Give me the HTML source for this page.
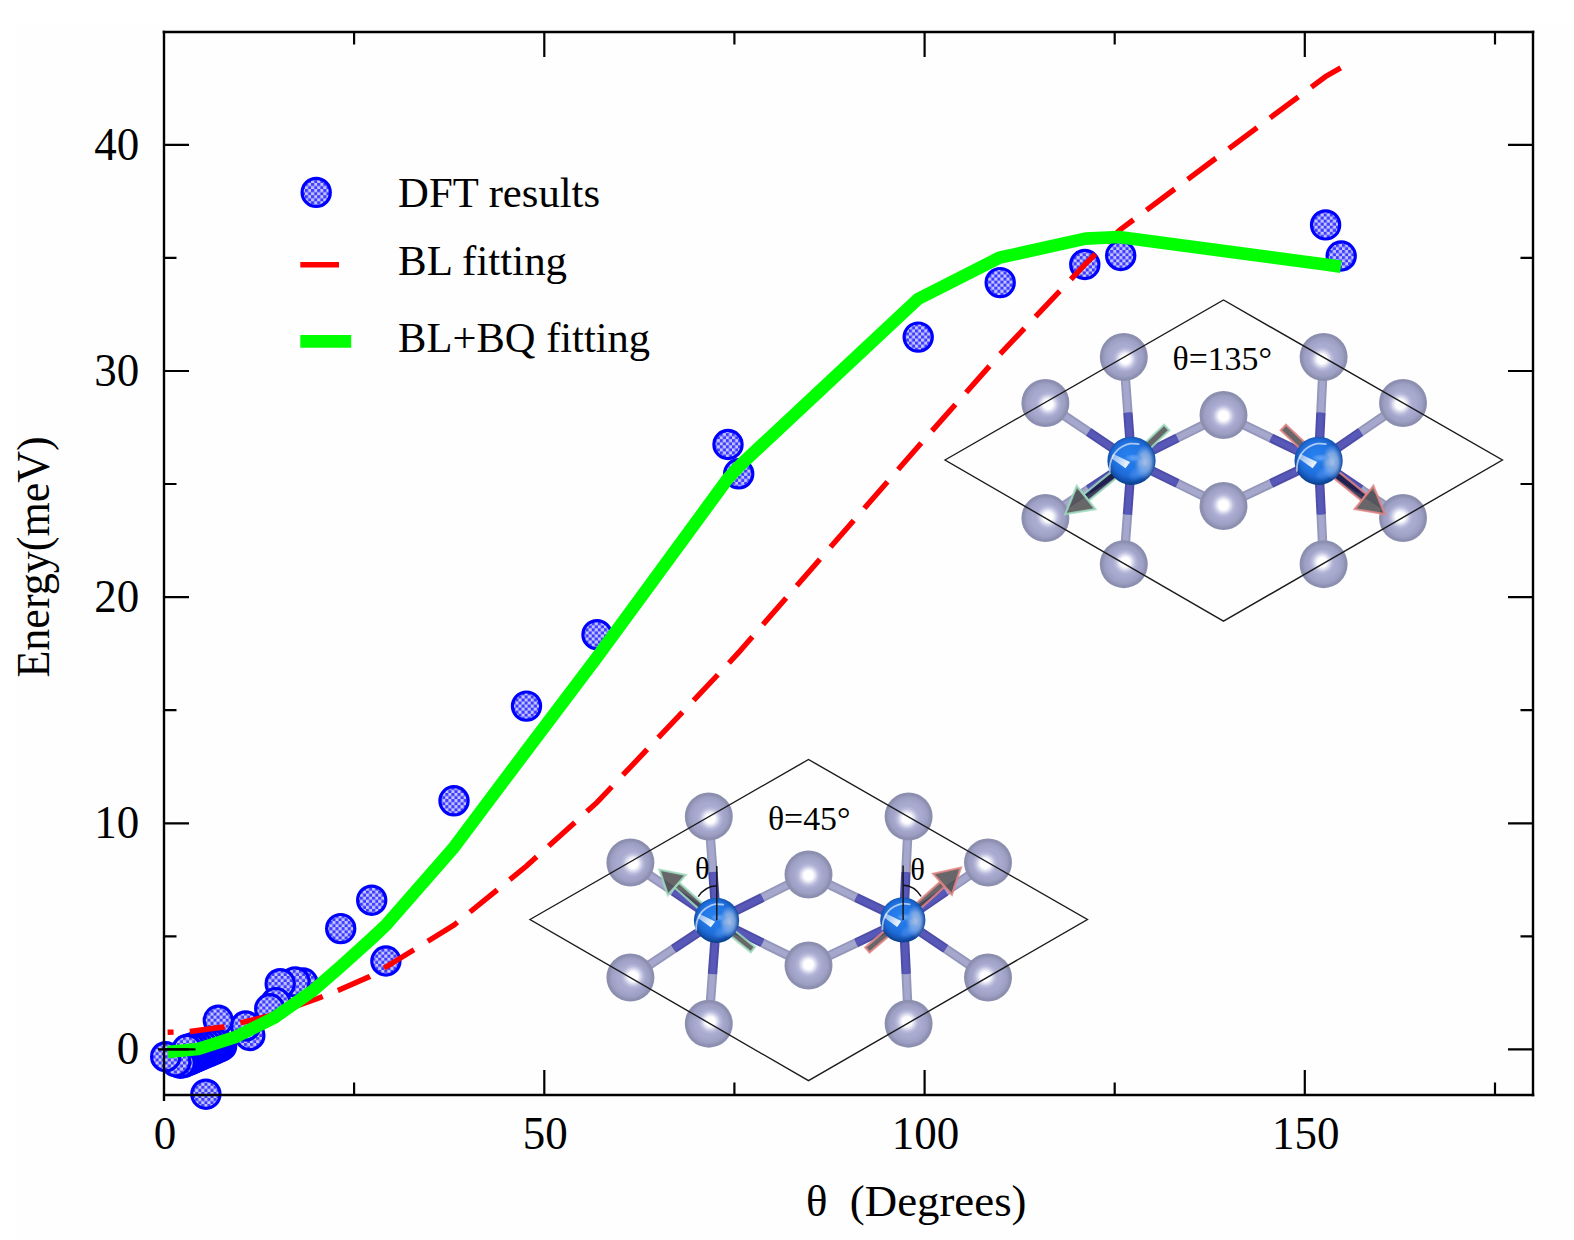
<!DOCTYPE html>
<html lang="en"><head><meta charset="utf-8"><title>Energy vs theta</title>
<style>html,body{margin:0;padding:0;background:#fff;}svg{display:block}text{font-family:"Liberation Serif","DejaVu Serif",serif;fill:#000}</style>
</head><body>
<svg width="1574" height="1240" viewBox="0 0 1574 1240">
<defs>
<pattern id="chk" width="6.1" height="6.1" patternUnits="userSpaceOnUse">
<rect width="6.1" height="6.1" fill="#c4c4ff"/>
<rect x="0" y="0" width="3.05" height="3.05" fill="#3c3cff"/>
<rect x="3.05" y="3.05" width="3.05" height="3.05" fill="#3c3cff"/>
</pattern>
<radialGradient id="gS" cx="0.5" cy="0.5" r="0.5">
<stop offset="0" stop-color="#a9abd1"/>
<stop offset="0.54" stop-color="#a8aad0"/>
<stop offset="0.80" stop-color="#9c9ec2"/>
<stop offset="0.94" stop-color="#8b8dae"/>
<stop offset="1" stop-color="#9092b2"/>
</radialGradient>
<radialGradient id="gH" cx="0.5" cy="0.5" r="0.5">
<stop offset="0" stop-color="#ffffff" stop-opacity="1"/>
<stop offset="0.35" stop-color="#ffffff" stop-opacity="1"/>
<stop offset="0.55" stop-color="#fafaff" stop-opacity="0.66"/>
<stop offset="0.78" stop-color="#f4f4ff" stop-opacity="0.2"/>
<stop offset="1" stop-color="#f0f0ff" stop-opacity="0"/>
</radialGradient>
<radialGradient id="gB" cx="0.5" cy="0.47" r="0.53" fx="0.40" fy="0.36">
<stop offset="0" stop-color="#2680ee"/>
<stop offset="0.5" stop-color="#2276e4"/>
<stop offset="0.72" stop-color="#1d6ad6"/>
<stop offset="0.88" stop-color="#1454b2"/>
<stop offset="1" stop-color="#093c88"/>
</radialGradient>
<radialGradient id="gL" cx="0.5" cy="0.5" r="0.5">
<stop offset="0" stop-color="#6aa8f8" stop-opacity="0.95"/>
<stop offset="0.6" stop-color="#5a9cf4" stop-opacity="0.6"/>
<stop offset="1" stop-color="#3a86ee" stop-opacity="0"/>
</radialGradient>
<linearGradient id="gW" x1="0" y1="0" x2="1" y2="0.5">
<stop offset="0" stop-color="#ffffff" stop-opacity="0.45"/>
<stop offset="1" stop-color="#ffffff" stop-opacity="0.92"/>
</linearGradient>
<radialGradient id="gP" cx="0.5" cy="0.5" r="0.5">
<stop offset="0" stop-color="#aac2e6" stop-opacity="0.95"/>
<stop offset="0.55" stop-color="#9dbbe6" stop-opacity="0.7"/>
<stop offset="1" stop-color="#7fa8e4" stop-opacity="0"/>
</radialGradient>
</defs>
<rect x="0" y="0" width="1574" height="1240" fill="#ffffff"/>
<rect x="16" y="25" width="1558" height="1215" fill="#fdfefd"/>
<g font-size="45">
<text transform="translate(165.0,1149.3) scale(1,1.04)" text-anchor="middle">0</text>
<text transform="translate(545.3,1149.3) scale(1,1.04)" text-anchor="middle">50</text>
<text transform="translate(925.6,1149.3) scale(1,1.04)" text-anchor="middle">100</text>
<text transform="translate(1305.8,1149.3) scale(1,1.04)" text-anchor="middle">150</text>
<text transform="translate(139.3,1064.4) scale(1,1.04)" text-anchor="end">0</text>
<text transform="translate(139.3,838.3) scale(1,1.04)" text-anchor="end">10</text>
<text transform="translate(139.3,612.1) scale(1,1.04)" text-anchor="end">20</text>
<text transform="translate(139.3,386.0) scale(1,1.04)" text-anchor="end">30</text>
<text transform="translate(139.3,159.8) scale(1,1.04)" text-anchor="end">40</text>
</g>
<text font-size="44.5" transform="translate(49,677.6) rotate(-90) scale(1,1.04)" textLength="241.4" lengthAdjust="spacingAndGlyphs">Energy(meV)</text>
<text font-size="44.5" x="806" y="1215.6" textLength="220.5" lengthAdjust="spacingAndGlyphs" style="white-space:pre">θ  (Degrees)</text>
<g fill="url(#chk)" stroke="#0000ff" stroke-width="3.2">
<circle cx="1341.2" cy="256" r="14.1"/>
<circle cx="1325.6" cy="224.9" r="14.1"/>
<circle cx="1120.7" cy="255.5" r="14.1"/>
<circle cx="1084.8" cy="264.5" r="14.1"/>
<circle cx="1000.2" cy="282.6" r="14.1"/>
<circle cx="918.2" cy="337.1" r="14.1"/>
<circle cx="738.7" cy="473.8" r="14.1"/>
<circle cx="728" cy="444.5" r="14.1"/>
<circle cx="597" cy="634.7" r="14.1"/>
<circle cx="526.5" cy="706.1" r="14.1"/>
<circle cx="454" cy="800.8" r="14.1"/>
<circle cx="385.9" cy="961" r="14.1"/>
<circle cx="371.7" cy="900.2" r="14.1"/>
<circle cx="340.7" cy="928.6" r="14.1"/>
<circle cx="303" cy="983" r="14.1"/>
<circle cx="295" cy="981.9" r="14.1"/>
<circle cx="280.2" cy="983.7" r="14.1"/>
<circle cx="275.8" cy="1002.6" r="14.1"/>
<circle cx="269.7" cy="1008.8" r="14.1"/>
<circle cx="249.8" cy="1035.5" r="14.1"/>
<circle cx="245.6" cy="1026" r="14.1"/>
<circle cx="221.6" cy="1046.0" r="14.1"/>
<circle cx="219.02666666666667" cy="1047.1066666666666" r="14.1"/>
<circle cx="218.3" cy="1020.3" r="14.1"/>
<circle cx="216.45333333333332" cy="1048.2133333333334" r="14.1"/>
<circle cx="213.88" cy="1049.32" r="14.1"/>
<circle cx="213.0" cy="1041.5" r="14.1"/>
<circle cx="211.30666666666667" cy="1050.4266666666667" r="14.1"/>
<circle cx="209.28571428571428" cy="1042.642857142857" r="14.1"/>
<circle cx="208.73333333333332" cy="1051.5333333333333" r="14.1"/>
<circle cx="206.16" cy="1052.6399999999999" r="14.1"/>
<circle cx="205.9" cy="1094.2" r="14.1"/>
<circle cx="205.57142857142858" cy="1043.7857142857142" r="14.1"/>
<circle cx="203.58666666666667" cy="1053.7466666666667" r="14.1"/>
<circle cx="201.85714285714286" cy="1044.9285714285713" r="14.1"/>
<circle cx="201.01333333333332" cy="1054.8533333333332" r="14.1"/>
<circle cx="198.44" cy="1055.96" r="14.1"/>
<circle cx="198.14285714285714" cy="1046.0714285714287" r="14.1"/>
<circle cx="195.86666666666667" cy="1057.0666666666666" r="14.1"/>
<circle cx="194.42857142857142" cy="1047.2142857142858" r="14.1"/>
<circle cx="193.29333333333332" cy="1058.1733333333332" r="14.1"/>
<circle cx="190.72" cy="1059.28" r="14.1"/>
<circle cx="190.71428571428572" cy="1048.357142857143" r="14.1"/>
<circle cx="188.14666666666668" cy="1060.3866666666665" r="14.1"/>
<circle cx="187.0" cy="1049.5" r="14.1"/>
<circle cx="185.57333333333332" cy="1061.4933333333333" r="14.1"/>
<circle cx="183.0" cy="1062.6" r="14.1"/>
<circle cx="180.3" cy="1063.2" r="14.1"/>
<circle cx="175.7" cy="1061.7" r="14.1"/>
<circle cx="165.7" cy="1056.7" r="14.1"/>
</g>
<path d="M167.6,1032.3 L189.2,1031.6 L223.5,1027 L270,1015.5 L317.6,998.5 L337.9,990.5 L369.7,976.5 L385.9,967 L454,925 L526.5,866 L597,802.4 L728,664 L738.7,652.4 L918.2,446.5 L1000.2,354 L1084.8,264.6 L1119.5,230.2 L1325.6,76.5 L1341.6,67.4" fill="none" stroke="#ff0000" stroke-width="5.4" stroke-dasharray="35.2 16.2" stroke-dashoffset="29.2"/>
<path d="M167.6,1051.9 L198.1,1048.9 L236.2,1036.7 L274.4,1017.6 L312.5,990.9 L340.7,966.5 L371.7,938.5 L385.9,925.2 L454,847.3 L526.5,750.6 L597,657.3 L728.1,478.3 L740.3,465.1 L918,299 L999.5,257.7 L1085.4,238.6 L1119,237 L1325.6,264.6 L1340.8,266.7" fill="none" stroke="#00ff00" stroke-width="12.6" stroke-linejoin="round"/>
<g stroke="#000" stroke-width="2.4" fill="none" stroke-linecap="butt">
<path d="M164,30.7V1101"/>
<path d="M1533,30.7V1096.3"/>
<path d="M162.7,32H1534.3"/>
<path d="M164,1095H1534.3"/>
</g>
<g stroke="#000" stroke-width="2.2" fill="none">
<path d="M544.3,1095v-25M544.3,32v25"/>
<path d="M924.6,1095v-25M924.6,32v25"/>
<path d="M1304.8,1095v-25M1304.8,32v25"/>
<path d="M354.1,1095v-12.5M354.1,32v12.5"/>
<path d="M734.4,1095v-12.5M734.4,32v12.5"/>
<path d="M1114.7,1095v-12.5M1114.7,32v12.5"/>
<path d="M1495.0,1095v-12.5M1495.0,32v12.5"/>
<path d="M164,1049.4h25M1533,1049.4h-25"/>
<path d="M164,823.3h25M1533,823.3h-25"/>
<path d="M164,597.1h25M1533,597.1h-25"/>
<path d="M164,371.0h25M1533,371.0h-25"/>
<path d="M164,144.8h25M1533,144.8h-25"/>
<path d="M164,936.3h12.5M1533,936.3h-12.5"/>
<path d="M164,710.2h12.5M1533,710.2h-12.5"/>
<path d="M164,484.0h12.5M1533,484.0h-12.5"/>
<path d="M164,257.9h12.5M1533,257.9h-12.5"/>
</g>
<path d="M158,1049.4H195.5" stroke="#000" stroke-width="2.2" fill="none"/>
<circle cx="316.2" cy="192.4" r="14.1" fill="url(#chk)" stroke="#0000ff" stroke-width="3.2"/>
<path d="M300.3,264.7H339" stroke="#ff0000" stroke-width="5.4" fill="none"/>
<path d="M300.3,341.4H351.2" stroke="#00ff00" stroke-width="12.6" fill="none"/>
<g font-size="42.6">
<text x="398.1" y="207" textLength="202" lengthAdjust="spacingAndGlyphs">DFT results</text>
<text x="398.1" y="275.1" textLength="169" lengthAdjust="spacingAndGlyphs">BL fitting</text>
<text x="398.1" y="352.1" textLength="252" lengthAdjust="spacingAndGlyphs">BL+BQ fitting</text>
</g>
<path d="M1123.8,357.0L1127.9,412.5" stroke="#9496ba" stroke-width="9.4" fill="none"/>
<path d="M1127.9,412.5L1131.5,460.8" stroke="#4d4da8" stroke-width="9.4" fill="none"/>
<path d="M1123.8,357.0L1127.9,412.5" stroke="#a5a7cd" stroke-width="5.6" fill="none"/>
<path d="M1127.9,412.5L1131.5,460.8" stroke="#5858b8" stroke-width="5.6" fill="none"/>
<path d="M1045.4,403L1088.5,431.9" stroke="#9496ba" stroke-width="9.4" fill="none"/>
<path d="M1088.5,431.9L1131.5,460.8" stroke="#4d4da8" stroke-width="9.4" fill="none"/>
<path d="M1045.4,403L1088.5,431.9" stroke="#a5a7cd" stroke-width="5.6" fill="none"/>
<path d="M1088.5,431.9L1131.5,460.8" stroke="#5858b8" stroke-width="5.6" fill="none"/>
<path d="M1223.5,415L1177.5,437.9" stroke="#9496ba" stroke-width="9.4" fill="none"/>
<path d="M1177.5,437.9L1131.5,460.8" stroke="#4d4da8" stroke-width="9.4" fill="none"/>
<path d="M1223.5,415L1177.5,437.9" stroke="#a5a7cd" stroke-width="5.6" fill="none"/>
<path d="M1177.5,437.9L1131.5,460.8" stroke="#5858b8" stroke-width="5.6" fill="none"/>
<path d="M1223.5,506L1177.5,483.4" stroke="#9496ba" stroke-width="9.4" fill="none"/>
<path d="M1177.5,483.4L1131.5,460.8" stroke="#4d4da8" stroke-width="9.4" fill="none"/>
<path d="M1223.5,506L1177.5,483.4" stroke="#a5a7cd" stroke-width="5.6" fill="none"/>
<path d="M1177.5,483.4L1131.5,460.8" stroke="#5858b8" stroke-width="5.6" fill="none"/>
<path d="M1045.4,518L1088.5,489.4" stroke="#9496ba" stroke-width="9.4" fill="none"/>
<path d="M1088.5,489.4L1131.5,460.8" stroke="#4d4da8" stroke-width="9.4" fill="none"/>
<path d="M1045.4,518L1088.5,489.4" stroke="#a5a7cd" stroke-width="5.6" fill="none"/>
<path d="M1088.5,489.4L1131.5,460.8" stroke="#5858b8" stroke-width="5.6" fill="none"/>
<path d="M1123.8,564.2L1127.5,514.6" stroke="#9496ba" stroke-width="9.4" fill="none"/>
<path d="M1127.5,514.6L1131.5,460.8" stroke="#4d4da8" stroke-width="9.4" fill="none"/>
<path d="M1123.8,564.2L1127.5,514.6" stroke="#a5a7cd" stroke-width="5.6" fill="none"/>
<path d="M1127.5,514.6L1131.5,460.8" stroke="#5858b8" stroke-width="5.6" fill="none"/>
<path d="M1323.6,357.0L1320.9,412.5" stroke="#9496ba" stroke-width="9.4" fill="none"/>
<path d="M1320.9,412.5L1318.6,460.8" stroke="#4d4da8" stroke-width="9.4" fill="none"/>
<path d="M1323.6,357.0L1320.9,412.5" stroke="#a5a7cd" stroke-width="5.6" fill="none"/>
<path d="M1320.9,412.5L1318.6,460.8" stroke="#5858b8" stroke-width="5.6" fill="none"/>
<path d="M1403,403L1360.8,431.9" stroke="#9496ba" stroke-width="9.4" fill="none"/>
<path d="M1360.8,431.9L1318.6,460.8" stroke="#4d4da8" stroke-width="9.4" fill="none"/>
<path d="M1403,403L1360.8,431.9" stroke="#a5a7cd" stroke-width="5.6" fill="none"/>
<path d="M1360.8,431.9L1318.6,460.8" stroke="#5858b8" stroke-width="5.6" fill="none"/>
<path d="M1223.5,415L1271.0,437.9" stroke="#9496ba" stroke-width="9.4" fill="none"/>
<path d="M1271.0,437.9L1318.6,460.8" stroke="#4d4da8" stroke-width="9.4" fill="none"/>
<path d="M1223.5,415L1271.0,437.9" stroke="#a5a7cd" stroke-width="5.6" fill="none"/>
<path d="M1271.0,437.9L1318.6,460.8" stroke="#5858b8" stroke-width="5.6" fill="none"/>
<path d="M1223.5,506L1271.0,483.4" stroke="#9496ba" stroke-width="9.4" fill="none"/>
<path d="M1271.0,483.4L1318.6,460.8" stroke="#4d4da8" stroke-width="9.4" fill="none"/>
<path d="M1223.5,506L1271.0,483.4" stroke="#a5a7cd" stroke-width="5.6" fill="none"/>
<path d="M1271.0,483.4L1318.6,460.8" stroke="#5858b8" stroke-width="5.6" fill="none"/>
<path d="M1403,518L1360.8,489.4" stroke="#9496ba" stroke-width="9.4" fill="none"/>
<path d="M1360.8,489.4L1318.6,460.8" stroke="#4d4da8" stroke-width="9.4" fill="none"/>
<path d="M1403,518L1360.8,489.4" stroke="#a5a7cd" stroke-width="5.6" fill="none"/>
<path d="M1360.8,489.4L1318.6,460.8" stroke="#5858b8" stroke-width="5.6" fill="none"/>
<path d="M1323.6,564.2L1321.2,514.6" stroke="#9496ba" stroke-width="9.4" fill="none"/>
<path d="M1321.2,514.6L1318.6,460.8" stroke="#4d4da8" stroke-width="9.4" fill="none"/>
<path d="M1323.6,564.2L1321.2,514.6" stroke="#a5a7cd" stroke-width="5.6" fill="none"/>
<path d="M1321.2,514.6L1318.6,460.8" stroke="#5858b8" stroke-width="5.6" fill="none"/>
<circle cx="1123.8" cy="357.0" r="24.0" fill="url(#gS)"/>
<circle cx="1125.3" cy="359.1" r="13.0" fill="url(#gH)"/>
<circle cx="1323.6" cy="357.0" r="24.0" fill="url(#gS)"/>
<circle cx="1322.1" cy="359.1" r="13.0" fill="url(#gH)"/>
<circle cx="1045.4" cy="403" r="24.0" fill="url(#gS)"/>
<circle cx="1048.1" cy="404.2" r="13.0" fill="url(#gH)"/>
<circle cx="1403" cy="403" r="24.0" fill="url(#gS)"/>
<circle cx="1400.3" cy="404.2" r="13.0" fill="url(#gH)"/>
<circle cx="1223.5" cy="415" r="24.0" fill="url(#gS)"/>
<circle cx="1223.5" cy="415.9" r="13.0" fill="url(#gH)"/>
<circle cx="1223.5" cy="506" r="24.0" fill="url(#gS)"/>
<circle cx="1223.5" cy="505.1" r="13.0" fill="url(#gH)"/>
<circle cx="1045.4" cy="518" r="24.0" fill="url(#gS)"/>
<circle cx="1048.1" cy="516.9" r="13.0" fill="url(#gH)"/>
<circle cx="1403" cy="518" r="24.0" fill="url(#gS)"/>
<circle cx="1400.3" cy="516.9" r="13.0" fill="url(#gH)"/>
<circle cx="1123.8" cy="564.2" r="24.0" fill="url(#gS)"/>
<circle cx="1125.3" cy="562.1" r="13.0" fill="url(#gH)"/>
<circle cx="1323.6" cy="564.2" r="24.0" fill="url(#gS)"/>
<circle cx="1322.1" cy="562.1" r="13.0" fill="url(#gH)"/>
<path d="M1126.2,470.2 L1088.5,500.6 L1083.5,494.4 L1121.2,464.0Z" fill="#15153a" fill-opacity="0.82" stroke="#9fdcc0" stroke-opacity="0.85" stroke-width="2.2" stroke-linejoin="miter"/>
<path d="M1095.3,509.1 L1065.3,514.2 L1076.7,486.0Z" fill="#454548" fill-opacity="0.82" stroke="#9fdcc0" stroke-opacity="0.85" stroke-width="2.2" stroke-linejoin="miter"/>
<path d="M1136.1,451.2 L1164.1,424.7 L1169.3,430.2 L1141.4,456.7Z" fill="#454548" fill-opacity="0.82" stroke="#9fdcc0" stroke-opacity="0.85" stroke-width="2.2" stroke-linejoin="miter"/>
<path d="M1328.9,464.0 L1366.6,494.4 L1361.6,500.6 L1323.9,470.2Z" fill="#15153a" fill-opacity="0.82" stroke="#e38484" stroke-opacity="0.85" stroke-width="2.2" stroke-linejoin="miter"/>
<path d="M1373.4,486.0 L1384.8,514.2 L1354.8,509.1Z" fill="#454548" fill-opacity="0.82" stroke="#e38484" stroke-opacity="0.85" stroke-width="2.2" stroke-linejoin="miter"/>
<path d="M1308.7,456.7 L1280.8,430.2 L1286.0,424.7 L1314.0,451.2Z" fill="#454548" fill-opacity="0.82" stroke="#e38484" stroke-opacity="0.85" stroke-width="2.2" stroke-linejoin="miter"/>
<circle cx="1131.5" cy="460.8" r="24.1" fill="url(#gB)"/>
<ellipse cx="1145.0" cy="462.2" rx="10.6" ry="17.4" fill="url(#gP)"/>
<ellipse cx="1133.4" cy="457.9" rx="9.6" ry="4.3" fill="url(#gL)"/>
<ellipse cx="1138.2" cy="472.9" rx="12.1" ry="7.2" fill="url(#gL)" opacity="0.55" transform="rotate(-25 1138.2 472.9)"/>
<path d="M1109.8,470.9 C1109.1,460.8 1114.1,451.2 1121.9,446.8 S1132.7,443.4 1138.7,444.2" fill="none" stroke="#ffffff" stroke-opacity="0.62" stroke-width="1.8" stroke-linecap="round"/>
<path d="M1112.9,453.8 1130.1,462.0 1125.5,468.3 1111.7,458.4Z" fill="url(#gW)"/>
<circle cx="1318.6" cy="460.8" r="24.1" fill="url(#gB)"/>
<ellipse cx="1332.1" cy="462.2" rx="10.6" ry="17.4" fill="url(#gP)"/>
<ellipse cx="1320.5" cy="457.9" rx="9.6" ry="4.3" fill="url(#gL)"/>
<ellipse cx="1325.3" cy="472.9" rx="12.1" ry="7.2" fill="url(#gL)" opacity="0.55" transform="rotate(-25 1325.3 472.9)"/>
<path d="M1296.9,470.9 C1296.2,460.8 1301.2,451.2 1309.0,446.8 S1319.8,443.4 1325.8,444.2" fill="none" stroke="#ffffff" stroke-opacity="0.62" stroke-width="1.8" stroke-linecap="round"/>
<path d="M1300.0,453.8 1317.2,462.0 1312.6,468.3 1298.8,458.4Z" fill="url(#gW)"/>
<path d="M945,460L1223.5,300L1502.4,460L1223.5,621.2Z" fill="none" stroke="#1a1a1a" stroke-width="1.4"/>
<text x="1222.2" y="369.6" font-size="33.8" text-anchor="middle">θ=135°</text>
<g transform="translate(-415,459.5)">
<path d="M1123.8,357.0L1127.9,412.5" stroke="#9496ba" stroke-width="9.4" fill="none"/>
<path d="M1127.9,412.5L1131.5,460.8" stroke="#4d4da8" stroke-width="9.4" fill="none"/>
<path d="M1123.8,357.0L1127.9,412.5" stroke="#a5a7cd" stroke-width="5.6" fill="none"/>
<path d="M1127.9,412.5L1131.5,460.8" stroke="#5858b8" stroke-width="5.6" fill="none"/>
<path d="M1045.4,403L1088.5,431.9" stroke="#9496ba" stroke-width="9.4" fill="none"/>
<path d="M1088.5,431.9L1131.5,460.8" stroke="#4d4da8" stroke-width="9.4" fill="none"/>
<path d="M1045.4,403L1088.5,431.9" stroke="#a5a7cd" stroke-width="5.6" fill="none"/>
<path d="M1088.5,431.9L1131.5,460.8" stroke="#5858b8" stroke-width="5.6" fill="none"/>
<path d="M1223.5,415L1177.5,437.9" stroke="#9496ba" stroke-width="9.4" fill="none"/>
<path d="M1177.5,437.9L1131.5,460.8" stroke="#4d4da8" stroke-width="9.4" fill="none"/>
<path d="M1223.5,415L1177.5,437.9" stroke="#a5a7cd" stroke-width="5.6" fill="none"/>
<path d="M1177.5,437.9L1131.5,460.8" stroke="#5858b8" stroke-width="5.6" fill="none"/>
<path d="M1223.5,506L1177.5,483.4" stroke="#9496ba" stroke-width="9.4" fill="none"/>
<path d="M1177.5,483.4L1131.5,460.8" stroke="#4d4da8" stroke-width="9.4" fill="none"/>
<path d="M1223.5,506L1177.5,483.4" stroke="#a5a7cd" stroke-width="5.6" fill="none"/>
<path d="M1177.5,483.4L1131.5,460.8" stroke="#5858b8" stroke-width="5.6" fill="none"/>
<path d="M1045.4,518L1088.5,489.4" stroke="#9496ba" stroke-width="9.4" fill="none"/>
<path d="M1088.5,489.4L1131.5,460.8" stroke="#4d4da8" stroke-width="9.4" fill="none"/>
<path d="M1045.4,518L1088.5,489.4" stroke="#a5a7cd" stroke-width="5.6" fill="none"/>
<path d="M1088.5,489.4L1131.5,460.8" stroke="#5858b8" stroke-width="5.6" fill="none"/>
<path d="M1123.8,564.2L1127.5,514.6" stroke="#9496ba" stroke-width="9.4" fill="none"/>
<path d="M1127.5,514.6L1131.5,460.8" stroke="#4d4da8" stroke-width="9.4" fill="none"/>
<path d="M1123.8,564.2L1127.5,514.6" stroke="#a5a7cd" stroke-width="5.6" fill="none"/>
<path d="M1127.5,514.6L1131.5,460.8" stroke="#5858b8" stroke-width="5.6" fill="none"/>
<path d="M1323.6,357.0L1320.9,412.5" stroke="#9496ba" stroke-width="9.4" fill="none"/>
<path d="M1320.9,412.5L1318.6,460.8" stroke="#4d4da8" stroke-width="9.4" fill="none"/>
<path d="M1323.6,357.0L1320.9,412.5" stroke="#a5a7cd" stroke-width="5.6" fill="none"/>
<path d="M1320.9,412.5L1318.6,460.8" stroke="#5858b8" stroke-width="5.6" fill="none"/>
<path d="M1403,403L1360.8,431.9" stroke="#9496ba" stroke-width="9.4" fill="none"/>
<path d="M1360.8,431.9L1318.6,460.8" stroke="#4d4da8" stroke-width="9.4" fill="none"/>
<path d="M1403,403L1360.8,431.9" stroke="#a5a7cd" stroke-width="5.6" fill="none"/>
<path d="M1360.8,431.9L1318.6,460.8" stroke="#5858b8" stroke-width="5.6" fill="none"/>
<path d="M1223.5,415L1271.0,437.9" stroke="#9496ba" stroke-width="9.4" fill="none"/>
<path d="M1271.0,437.9L1318.6,460.8" stroke="#4d4da8" stroke-width="9.4" fill="none"/>
<path d="M1223.5,415L1271.0,437.9" stroke="#a5a7cd" stroke-width="5.6" fill="none"/>
<path d="M1271.0,437.9L1318.6,460.8" stroke="#5858b8" stroke-width="5.6" fill="none"/>
<path d="M1223.5,506L1271.0,483.4" stroke="#9496ba" stroke-width="9.4" fill="none"/>
<path d="M1271.0,483.4L1318.6,460.8" stroke="#4d4da8" stroke-width="9.4" fill="none"/>
<path d="M1223.5,506L1271.0,483.4" stroke="#a5a7cd" stroke-width="5.6" fill="none"/>
<path d="M1271.0,483.4L1318.6,460.8" stroke="#5858b8" stroke-width="5.6" fill="none"/>
<path d="M1403,518L1360.8,489.4" stroke="#9496ba" stroke-width="9.4" fill="none"/>
<path d="M1360.8,489.4L1318.6,460.8" stroke="#4d4da8" stroke-width="9.4" fill="none"/>
<path d="M1403,518L1360.8,489.4" stroke="#a5a7cd" stroke-width="5.6" fill="none"/>
<path d="M1360.8,489.4L1318.6,460.8" stroke="#5858b8" stroke-width="5.6" fill="none"/>
<path d="M1323.6,564.2L1321.2,514.6" stroke="#9496ba" stroke-width="9.4" fill="none"/>
<path d="M1321.2,514.6L1318.6,460.8" stroke="#4d4da8" stroke-width="9.4" fill="none"/>
<path d="M1323.6,564.2L1321.2,514.6" stroke="#a5a7cd" stroke-width="5.6" fill="none"/>
<path d="M1321.2,514.6L1318.6,460.8" stroke="#5858b8" stroke-width="5.6" fill="none"/>
<circle cx="1123.8" cy="357.0" r="24.0" fill="url(#gS)"/>
<circle cx="1125.3" cy="359.1" r="13.0" fill="url(#gH)"/>
<circle cx="1323.6" cy="357.0" r="24.0" fill="url(#gS)"/>
<circle cx="1322.1" cy="359.1" r="13.0" fill="url(#gH)"/>
<circle cx="1045.4" cy="403" r="24.0" fill="url(#gS)"/>
<circle cx="1048.1" cy="404.2" r="13.0" fill="url(#gH)"/>
<circle cx="1403" cy="403" r="24.0" fill="url(#gS)"/>
<circle cx="1400.3" cy="404.2" r="13.0" fill="url(#gH)"/>
<circle cx="1223.5" cy="415" r="24.0" fill="url(#gS)"/>
<circle cx="1223.5" cy="415.9" r="13.0" fill="url(#gH)"/>
<circle cx="1223.5" cy="506" r="24.0" fill="url(#gS)"/>
<circle cx="1223.5" cy="505.1" r="13.0" fill="url(#gH)"/>
<circle cx="1045.4" cy="518" r="24.0" fill="url(#gS)"/>
<circle cx="1048.1" cy="516.9" r="13.0" fill="url(#gH)"/>
<circle cx="1403" cy="518" r="24.0" fill="url(#gS)"/>
<circle cx="1400.3" cy="516.9" r="13.0" fill="url(#gH)"/>
<circle cx="1123.8" cy="564.2" r="24.0" fill="url(#gS)"/>
<circle cx="1125.3" cy="562.1" r="13.0" fill="url(#gH)"/>
<circle cx="1323.6" cy="564.2" r="24.0" fill="url(#gS)"/>
<circle cx="1322.1" cy="562.1" r="13.0" fill="url(#gH)"/>
<path d="M1121.8,456.6 L1089.6,428.0 L1094.0,423.1 L1126.2,451.7Z" fill="#454548" fill-opacity="0.82" stroke="#9fdcc0" stroke-opacity="0.85" stroke-width="2.2" stroke-linejoin="miter"/>
<path d="M1082.9,435.6 L1074.4,410.1 L1100.7,415.5Z" fill="#454548" fill-opacity="0.82" stroke="#9fdcc0" stroke-opacity="0.85" stroke-width="2.2" stroke-linejoin="miter"/>
<path d="M1141.4,464.5 L1170.0,487.5 L1165.8,492.6 L1137.2,469.6Z" fill="#454548" fill-opacity="0.82" stroke="#9fdcc0" stroke-opacity="0.85" stroke-width="2.2" stroke-linejoin="miter"/>
<path d="M1323.0,451.3 L1355.4,422.1 L1359.8,427.1 L1327.4,456.2Z" fill="#454548" fill-opacity="0.82" stroke="#e38484" stroke-opacity="0.85" stroke-width="2.2" stroke-linejoin="miter"/>
<path d="M1348.2,414.2 L1375.8,408.2 L1366.9,435.0Z" fill="#454548" fill-opacity="0.82" stroke="#e38484" stroke-opacity="0.85" stroke-width="2.2" stroke-linejoin="miter"/>
<path d="M1312.3,469.4 L1284.5,492.9 L1280.3,487.9 L1308.0,464.4Z" fill="#454548" fill-opacity="0.82" stroke="#e38484" stroke-opacity="0.85" stroke-width="2.2" stroke-linejoin="miter"/>
<circle cx="1131.5" cy="460.8" r="22.6" fill="url(#gB)"/>
<ellipse cx="1144.2" cy="462.2" rx="9.9" ry="16.3" fill="url(#gP)"/>
<ellipse cx="1133.3" cy="458.1" rx="9.0" ry="4.1" fill="url(#gL)"/>
<ellipse cx="1137.8" cy="472.1" rx="11.3" ry="6.8" fill="url(#gL)" opacity="0.55" transform="rotate(-25 1137.8 472.1)"/>
<path d="M1111.2,470.3 C1110.5,460.8 1115.2,451.8 1122.5,447.7 S1132.6,444.5 1138.3,445.2" fill="none" stroke="#ffffff" stroke-opacity="0.62" stroke-width="1.8" stroke-linecap="round"/>
<path d="M1114.1,454.2 1130.1,461.9 1125.8,467.8 1113.0,458.5Z" fill="url(#gW)"/>
<circle cx="1317.8" cy="460.40000000000003" r="22.6" fill="url(#gB)"/>
<ellipse cx="1330.5" cy="461.8" rx="9.9" ry="16.3" fill="url(#gP)"/>
<ellipse cx="1319.6" cy="457.7" rx="9.0" ry="4.1" fill="url(#gL)"/>
<ellipse cx="1324.1" cy="471.7" rx="11.3" ry="6.8" fill="url(#gL)" opacity="0.55" transform="rotate(-25 1324.1 471.7)"/>
<path d="M1297.5,469.9 C1296.8,460.4 1301.5,451.4 1308.8,447.3 S1318.9,444.1 1324.6,444.8" fill="none" stroke="#ffffff" stroke-opacity="0.62" stroke-width="1.8" stroke-linecap="round"/>
<path d="M1300.4,453.8 1316.4,461.5 1312.1,467.4 1299.3,458.1Z" fill="url(#gW)"/>
<path d="M945,460L1223.5,300L1502.4,460L1223.5,621.2Z" fill="none" stroke="#1a1a1a" stroke-width="1.4"/>
<text x="1224.2" y="370.4" font-size="33.8" text-anchor="middle">θ=45°</text>
<path d="M1131.8,460.8V406.5" stroke="#111" stroke-width="1.4" fill="none"/>
<path d="M1132.0,426.2Q1120.0,426.6 1113.2,437.2" stroke="#111" stroke-width="1.4" fill="none"/>
<text x="1117.3" y="419.8" font-size="30.5" text-anchor="middle">θ</text>
<path d="M1318.1,460.40000000000003V406.1" stroke="#111" stroke-width="1.4" fill="none"/>
<path d="M1318.3,425.8Q1329.3,426.20000000000005 1336.1,436.8" stroke="#111" stroke-width="1.4" fill="none"/>
<text x="1332.5" y="420.4" font-size="30.5" text-anchor="middle">θ</text>
</g>
</svg></body></html>
